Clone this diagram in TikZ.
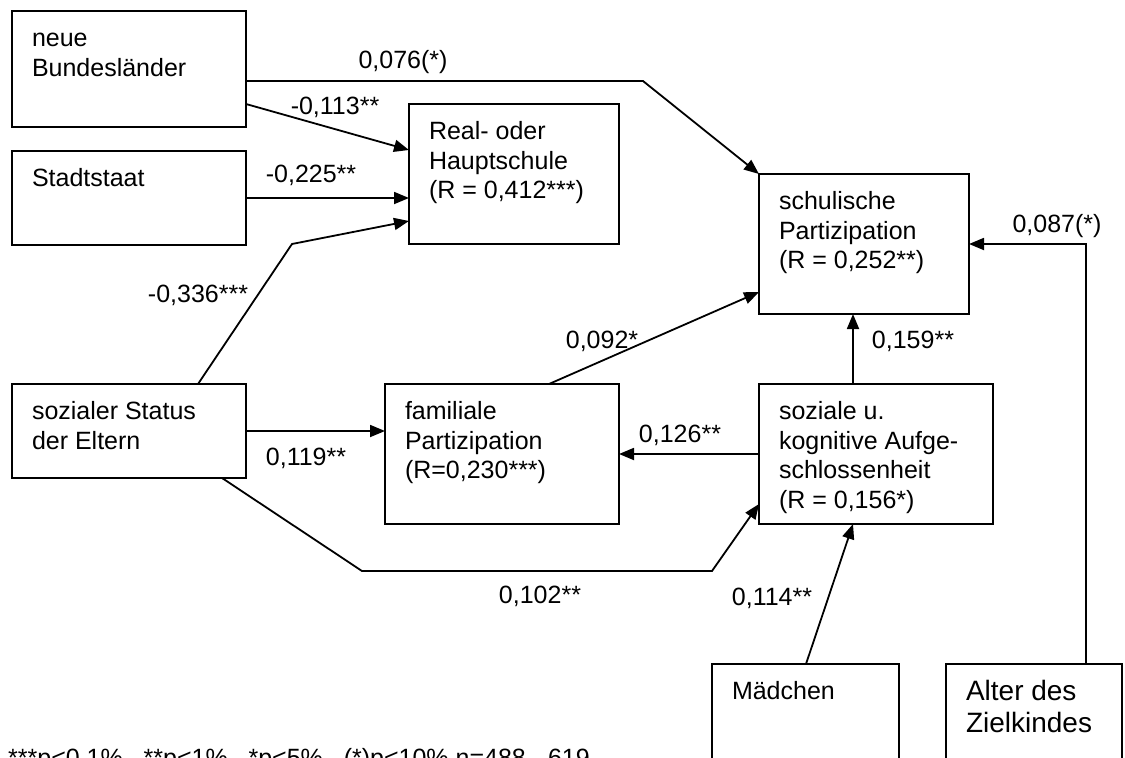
\documentclass[tikz,border=0pt]{standalone}
\usepackage{fontspec}
\setmainfont{Liberation Sans}
\usetikzlibrary{arrows.meta}
\newcommand{\bt}[3]{\parbox[c][#2][t]{#1}{\raggedright\strut #3}}
\tikzset{
  box/.style={draw, line width=1.8pt, inner xsep=20pt, inner ysep=15pt, anchor=north west, outer sep=0pt,
    font=\fontsize{25}{29.5}\selectfont},
  lbl/.style={inner sep=0pt, anchor=base, font=\fontsize{25}{29.5}\selectfont},
  conn/.style={line width=1.8pt, -{Triangle[length=15pt,width=12pt]}},
}
\begin{document}
\begin{tikzpicture}[x=1pt,y=-1pt]
\useasboundingbox (0,0) rectangle (1125,758);
\clip (0,0) rectangle (1125,758);
% boxes
\node[box] (nbl) at (12,11) {\bt{194pt}{86pt}{neue\\Bundesländer}};
\node[box] (stadt) at (12,151) {\bt{194pt}{64pt}{Stadtstaat}};
\node[box] (real) at (409,104) {\bt{170pt}{110pt}{Real- oder\\Hauptschule\\(R = 0,412***)}};
\node[box] (schul) at (759,174) {\bt{170pt}{110pt}{schulische\\Partizipation\\(R = 0,252**)}};
\node[box] (auf) at (759,384) {\bt{194pt}{110pt}{soziale u.\\kognitive Aufge-\\schlossenheit\\(R = 0,156*)}};
\node[box] (fam) at (385,384) {\bt{194pt}{110pt}{familiale\\Partizipation\\(R=0,230***)}};
\node[box] (status) at (12,384) {\bt{194pt}{64pt}{sozialer Status\\der Eltern}};
\node[box] (maed) at (712,664) {\bt{147pt}{100pt}{Mädchen}};
\node[box, inner ysep=14pt, font=\fontsize{28}{32}\selectfont] (alter) at (946,664) {\bt{136pt}{102pt}{Alter des\\Zielkindes}};
% connectors
\coordinate (k1) at (643,81);
\coordinate (k2) at (292,244);
\coordinate (k3) at (362,571);
\coordinate (k4) at (712,571);
\draw[conn] ([yshift=-12pt]nbl.east) -- (k1) -- (schul.north west);
\draw[conn] ([yshift=-35pt]nbl.east) -- ([yshift=24pt]real.west);
\draw[conn] (stadt.east) -- (stadt.east -| real.west);
\draw[conn] ([xshift=186pt]status.north west) -- (k2) -- ([yshift=-47pt]real.west);
\draw[conn] (status.east) -- (status.east -| fam.west);
\draw[conn] ([xshift=-24pt]status.south east) -- (k3) -- (k4) -- ([yshift=-50pt]auf.west);
\draw[conn] ([xshift=164pt]fam.north west) -- ([yshift=-48pt]schul.west);
\draw[conn] ([xshift=94pt]auf.north west) -- ([xshift=94pt]schul.south west);
\draw[conn] (auf.west) -- (fam.east);
\draw[conn] ([xshift=94pt]maed.north west) -- ([xshift=94pt]auf.south west);
\draw[conn] ([xshift=140pt]alter.north west) |- (schul.east);
% labels
\node[lbl] (l1) at (403,68) {0,076(*)};
\node[lbl] (l2) at (335,114) {-0,113**};
\node[lbl] (l3) at (311,182) {-0,225**};
\node[lbl] (l4) at (198,302) {-0,336***};
\node[lbl] (l5) at (306,465) {0,119**};
\node[lbl] (l6) at (602,348) {0,092*};
\node[lbl] (l7) at (680,442) {0,126**};
\node[lbl] (l8) at (913,348) {0,159**};
\node[lbl] (l9) at (1057,232) {0,087(*)};
\node[lbl] (l10) at (540,603) {0,102**};
\node[lbl] (l11) at (772,605) {0,114**};
\node[lbl, anchor=base west] (fn) at (8,766) {***p<0,1\%,\ \ **p<1\%,\ \ *p<5\%,\ \ (*)p<10\% n=488 - 619};
\end{tikzpicture}
\end{document}
